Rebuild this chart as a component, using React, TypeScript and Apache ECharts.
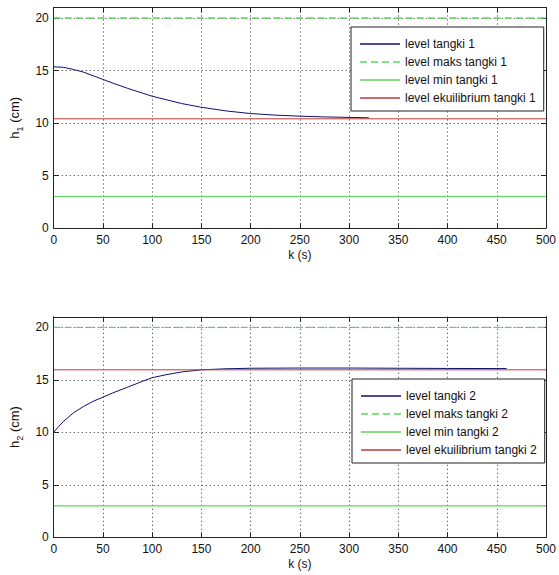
import React, { useEffect, useRef } from "react";
import * as echarts from "echarts";

// ---- data ----
const xTicks = [0, 50, 100, 150, 200, 250, 300, 350, 400, 450, 500];
const yTicks = [0, 5, 10, 15, 20];

const t1 = [0, 10, 20, 30, 40, 50, 60, 75, 90, 100, 115, 130, 150, 175, 200, 225, 250, 275, 300, 320];
const h1 = [15.35, 15.3, 15.1, 14.85, 14.5, 14.15, 13.8, 13.3, 12.85, 12.55, 12.2, 11.85, 11.5, 11.15, 10.9, 10.75, 10.65, 10.58, 10.53, 10.5];
const max1 = 20;
const min1 = 3;
const eq1 = 10.4;

const t2 = [0, 5, 10, 20, 30, 40, 50, 60, 75, 90, 100, 115, 130, 150, 175, 200, 250, 300, 350, 400, 460];
const h2 = [10, 10.55, 11.05, 11.85, 12.45, 12.95, 13.35, 13.75, 14.3, 14.85, 15.2, 15.5, 15.75, 15.95, 16.05, 16.1, 16.12, 16.12, 16.1, 16.08, 16.07];
const max2 = 20;
const min2 = 3;
const eq2 = 15.95;

const names1 = ["level tangki 1", "level maks tangki 1", "level min tangki 1", "level ekuilibrium tangki 1"];
const names2 = ["level tangki 2", "level maks tangki 2", "level min tangki 2", "level ekuilibrium tangki 2"];

const FONT = "'Liberation Sans Narrow', 'Liberation Sans', Arial, sans-serif";
const BLUE = "#10106e";
const GREEN = "#5fd65f";
const RED = "#c03a3a";
const XMAX = 500;
const YMAX = 21;

const SOLID_ICON = "path://M0,0h40v1.5h-40z";
const DASH_ICON = "path://M0,0h7v1.5h-7zM11,0h7v1.5h-7zM22,0h7v1.5h-7zM33,0h7v1.5h-7z";

const zip = (a: number[], b: number[]) => a.map((v, i) => [v, b[i]]);
const hline = (v: number) => [[0, v], [XMAX, v]];

export default function App() {
  const ref = useRef<HTMLDivElement>(null);
  useEffect(() => {
    if (!ref.current) return;
    const chart = echarts.init(ref.current, undefined, { renderer: "svg" });

    const grids = [
      { left: 53, right: 10, top: 7.5, height: 220.5 },
      { left: 53, right: 10, top: 316.8, height: 220.5 },
    ];

    const xAxes: any[] = [];
    const yAxes: any[] = [];
    [0, 1].forEach((g) => {
      xAxes.push({
        type: "value",
        gridIndex: g,
        min: 0,
        max: XMAX,
        interval: 50,
        position: "bottom",
        name: "k (s)",
        nameLocation: "middle",
        nameGap: 21,
        nameTextStyle: { fontFamily: FONT, fontSize: 12, color: "#111" },
        axisLine: { show: true, onZero: false, lineStyle: { color: "#222", width: 1 } },
        axisTick: { show: true, inside: true, length: 5, lineStyle: { color: "#222" } },
        axisLabel: {
          fontFamily: FONT,
          fontSize: 12,
          color: "#111",
          margin: 6,
          formatter: (v: number) => (xTicks.includes(v) ? String(v) : ""),
        },
        splitLine: { show: true, lineStyle: { type: [1, 3], color: "#333", width: 1 } },
      });
      xAxes.push({
        type: "value",
        gridIndex: g,
        min: 0,
        max: XMAX,
        interval: 50,
        position: "top",
        axisLine: { show: true, onZero: false, lineStyle: { color: "#222", width: 1 } },
        axisTick: { show: true, inside: true, length: 5, lineStyle: { color: "#222" } },
        axisLabel: { show: false },
        splitLine: { show: false },
      });
      yAxes.push({
        type: "value",
        gridIndex: g,
        min: 0,
        max: YMAX,
        interval: 5,
        position: "left",
        name: g === 0 ? "{a|h}{s|1}{a| (cm)}" : "{a|h}{s|2}{a| (cm)}",
        nameLocation: "middle",
        nameGap: 24,
        nameTextStyle: {
          fontFamily: FONT,
          color: "#111",
          rich: {
            a: { fontFamily: FONT, fontSize: 13, color: "#111", verticalAlign: "middle", lineHeight: 20 },
            s: { fontFamily: FONT, fontSize: 9, color: "#111", verticalAlign: "bottom", lineHeight: 20 },
          },
        },
        axisLine: { show: true, onZero: false, lineStyle: { color: "#222", width: 1 } },
        axisTick: { show: true, inside: true, length: 5, lineStyle: { color: "#222" } },
        axisLabel: {
          fontFamily: FONT,
          fontSize: 12,
          color: "#111",
          margin: 5,
          showMaxLabel: false,
          formatter: (v: number) => (yTicks.includes(v) ? String(v) : ""),
        },
        splitLine: { show: true, lineStyle: { type: [1, 3], color: "#333", width: 1 } },
      });
      yAxes.push({
        type: "value",
        gridIndex: g,
        min: 0,
        max: YMAX,
        interval: 5,
        position: "right",
        axisLine: { show: true, onZero: false, lineStyle: { color: "#222", width: 1 } },
        axisTick: { show: true, inside: true, length: 5, lineStyle: { color: "#222" } },
        axisLabel: { show: false },
        splitLine: { show: false },
      });
    });

    const mk = (name: string, data: number[][], g: number, color: string, type: any, width: number) => ({
      name,
      type: "line",
      xAxisIndex: g * 2,
      yAxisIndex: g * 2,
      data,
      symbol: "none",
      smooth: false,
      color,
      lineStyle: { color, type, width },
      itemStyle: { color },
      z: 3,
    });

    const series: any[] = [
      mk(names1[0], zip(t1, h1), 0, BLUE, "solid", 1),
      mk(names1[1], hline(max1), 0, GREEN, [7, 4], 1.3),
      mk(names1[2], hline(min1), 0, GREEN, "solid", 1.2),
      mk(names1[3], hline(eq1), 0, RED, "solid", 1),
      mk(names2[0], zip(t2, h2), 1, BLUE, "solid", 1),
      mk(names2[1], hline(max2), 1, GREEN, [7, 4], 1.3),
      mk(names2[2], hline(min2), 1, GREEN, "solid", 1.2),
      mk(names2[3], hline(eq2), 1, RED, "solid", 1),
    ];

    const icons = [SOLID_ICON, DASH_ICON, SOLID_ICON, SOLID_ICON];
    const legendData = (names: string[]) => names.map((n, i) => ({ name: n, icon: icons[i] }));

    const legendBase = {
      orient: "vertical",
      align: "left",
      itemWidth: 40,
      itemHeight: 14,
      itemGap: 6,
      itemTextGap: 3,
      padding: [11, 8, 7, 9],
      symbolKeepAspect: true,
      backgroundColor: "#fff",
      borderColor: "#222",
      borderWidth: 1,
      borderRadius: 0,
      selectedMode: false,
      textStyle: { fontFamily: FONT, fontSize: 12, color: "#111" },
    };

    chart.setOption({
      animation: false,
      backgroundColor: "#fff",
      grid: grids,
      xAxis: xAxes,
      yAxis: yAxes,
      legend: [
        { ...legendBase, data: legendData(names1), left: 351, top: 27 },
        { ...legendBase, data: legendData(names2), left: 352, top: 379 },
      ],
      series,
    });

    return () => chart.dispose();
  }, []);

  return (
    <div
      ref={ref}
      style={{ position: "absolute", left: 0, top: 0, width: 559, height: 575, background: "#fff" }}
    />
  );
}
